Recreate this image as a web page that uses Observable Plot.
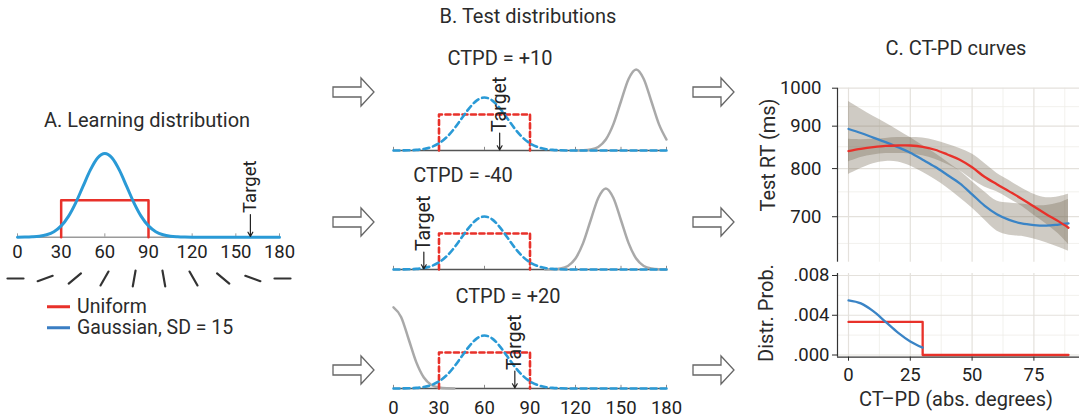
<!DOCTYPE html>
<html><head><meta charset="utf-8">
<script src="https://cdn.jsdelivr.net/npm/d3@7"></script>
<script src="https://cdn.jsdelivr.net/npm/@observablehq/plot@0.6"></script>
<style>
body{margin:0;background:#fff;font-family:Roboto,sans-serif;color:#2b2b2b}
#fig{position:relative;width:1084px;height:419px;overflow:hidden;background:#fff}
.t{position:absolute;transform:translate(-50%,-50%);white-space:nowrap;font-size:20px;line-height:1;color:#2b2b2b}
.leg{position:absolute;white-space:nowrap;font-size:19.5px;line-height:1;color:#2b2b2b;transform:translateY(-50%)}
.leg span{display:inline-block;width:23px;height:3px;vertical-align:middle;margin-right:7px;position:relative;top:-1px}
</style></head><body><div id="fig"></div>
<script>
// ---------- DATA ----------
// Panel A / B: learning distribution (relative height, peak = 1)
const learnX = [0,5,10,15,20,25,30,35,40,45,50,55,60,65,70,75,80,85,90,95,100,105,110,115,120,125,130,135,140,145,150,155,160,165,170,175,180];
const learnY = [0,0.001,0.004,0.011,0.029,0.066,0.135,0.249,0.411,0.607,0.801,0.946,1,0.946,0.801,0.607,0.411,0.249,0.135,0.066,0.029,0.011,0.004,0.001,0,0,0,0,0,0,0,0,0,0,0,0,0];
const uniformX = [30,30,90,90];
const uniformShape = [0,1,1,0];
const uniformLevelA = 0.44;
const uniformLevelB = 0.68;
const orientTicks = [0,30,60,90,120,150,180];
const targetA = 160;
const orientations = [0,20,40,60,80,100,120,140,160,180];
const legendNames = ["Uniform","Gaussian, SD = 15"];

// Panel B: test distributions
const ctpdLabels = ["CTPD = +10","CTPD = -40","CTPD = +20"];
const targetsB = [70,20,80];
const testCenters = [160,140,0];
const testOffsets = [-40,-35,-30,-25,-20,-15,-10,-5,0,5,10,15,20,25,30,35,40];
const testShape = [0,0.003,0.017,0.067,0.207,0.497,0.929,1.35,1.53,1.35,0.929,0.497,0.207,0.067,0.017,0.003,0];

// Panel C: CT-PD curves
const ctpdX  = [0,5,10,15,20,25,30,35,40,45,50,55,60,65,70,75,80,85,89];
const blueRT = [893,883,872,861,849,836,820,804,786,768,745,722,705,694,687,684,683,685,687];
const blueLo = [787,800,811,816,815,806,792,776,758,738,717,694,673,665,663,658,651,643,636];
const blueHi = [964,944,925,908,890,872,853,835,815,795,772,750,731,727,725,722,722,727,735];
const redRT  = [840,845,849,852,853,853,850,843,832,820,803,782,766,751,736,720,705,691,679];
const redLo  = [815,825,831,834,834,833,829,821,809,795,776,760,750,736,721,703,686,667,648];
const redHi  = [868,867,868,870,872,872,871,865,856,846,833,812,790,774,758,745,738,740,745];
const rtTicks = [700,800,900,1000];
const rtMinor = [650,750,850,950];
const probX = [0,5,10,15,20,25,30];
const gaussProb = [0.0055,0.00519,0.00441,0.00334,0.00226,0.00137,0.00074];
const uniProbX = [0,30,89];
const uniProb = [0.00333,0,0];
const probTicks = [0,0.004,0.008];
const probMinor = [0.002,0.006];
const cTicks = [0,25,50,75];
const cMinor = [12.5,37.5,62.5,87.5];

// ---------- STYLE ----------
const RED = "#e8312a", BLUE_A = "#2a9ad6", BLUE_L = "#3a7ec3", BLUE_C = "#3a84c6";
const GREY = "#a9a9a9", INK = "#222", GRID = "#e4e1dc", GRIDMIN = "#efede9";
const baseStyle = {fontFamily:"Roboto, sans-serif", fontSize:"18px", color:"#2b2b2b", background:"transparent", overflow:"visible"};

const fig = document.getElementById("fig");
function place(el, left, top){ el.style.position="absolute"; el.style.left=left+"px"; el.style.top=top+"px"; fig.appendChild(el); return el; }
function label(text, x, y, rot){ const d=document.createElement("div"); d.className="t"; d.textContent=text; d.style.left=x+"px"; d.style.top=y+"px"; if(rot) d.style.transform="translate(-50%,-50%) rotate(-90deg)"; fig.appendChild(d); }

// ---------- PANEL A ----------
const rowsA = learnX.map((x,i)=>({x, y:learnY[i]}));
const uniA = uniformX.map((x,i)=>({x, y:uniformShape[i]*uniformLevelA}));
place(Plot.plot({
  width:300, height:140, marginLeft:17, marginRight:21, marginTop:23, marginBottom:33.3,
  x:{domain:[0,180], label:null}, y:{domain:[0,1], axis:null, label:null},
  style: baseStyle,
  marks:[
    Plot.ruleY([0],{stroke:"#9a9a9a", strokeWidth:1.5}),
    Plot.ruleX(orientTicks,{y1:0, y2:0.04, stroke:"#9a9a9a"}),
    Plot.line(uniA,{x:"x", y:"y", stroke:RED, strokeWidth:2.5}),
    Plot.line(rowsA,{x:"x", y:"y", stroke:BLUE_A, strokeWidth:3, curve:"monotone-x"}),
    Plot.arrow([targetA],{x1:d=>d, x2:d=>d, y1:0.27, y2:0.01, stroke:INK, strokeWidth:1.2, headLength:6}),
    Plot.text([targetA],{x:d=>d, y:0.29, text:()=>"Target", rotate:-90, textAnchor:"start", lineAnchor:"middle", fontSize:18.5, fill:INK}),
    Plot.axisX(orientTicks,{tickSize:0, tickPadding:8, fontSize:18.5, fill:INK})
  ]
}), 0, 130);

place(Plot.plot({
  width:300, height:26, marginLeft:15, marginRight:18, marginTop:0, marginBottom:0,
  x:{domain:[0,180], axis:null}, style: baseStyle,
  marks:[
    Plot.vector(orientations,{x:d=>d, rotate:d=>90-d, length:16, anchor:"middle",
      shape:{draw(ctx,l){ ctx.moveTo(0,0); ctx.lineTo(0,-l); }},
      stroke:"#333", strokeWidth:2.2})
  ]
}), 0, 265);

label("A. Learning distribution", 147, 120);
[[RED,307],[BLUE_L,328]].forEach(([c,y],i)=>{
  const d=document.createElement("div"); d.className="leg";
  d.innerHTML=`<span style="background:${c}"></span>`; d.appendChild(document.createTextNode(legendNames[i]));
  d.style.left="47px"; d.style.top=y+"px"; fig.appendChild(d);
});

// ---------- PANEL B ----------
const rowsB = learnX.map((x,i)=>({x, y:learnY[i]}));
const uniB = uniformX.map((x,i)=>({x, y:uniformShape[i]*uniformLevelB}));
const bTops = [55,174,293];
const bCenters = [[500,57.5],[463,175],[508,296]];
[0,1,2].forEach(i=>{
  const test = testOffsets.map((o,j)=>({x:testCenters[i]+o, y:testShape[j]})).filter(d=>d.x>=0 && d.x<=180);
  const last = i===2;
  const marks = [
    Plot.ruleY([0],{stroke:"#555", strokeWidth:1.5}),
    Plot.ruleX(orientTicks,{y1:0, y2:0.06, stroke:"#8a8a8a"}),
    Plot.line(test,{x:"x", y:"y", stroke:GREY, strokeWidth:2.5, curve:"monotone-x"}),
    Plot.line(uniB,{x:"x", y:"y", stroke:RED, strokeWidth:2.6, strokeDasharray:"5,3.5"}),
    Plot.line(rowsB,{x:"x", y:"y", stroke:BLUE_A, strokeWidth:2.6, strokeDasharray:"6,4", curve:"monotone-x"}),
    Plot.arrow([targetsB[i]],{x1:d=>d, x2:d=>d, y1:0.33, y2:0.01, stroke:INK, strokeWidth:1.2, headLength:6}),
    Plot.text([targetsB[i]],{x:d=>d, y:0.35, text:()=>"Target", rotate:-90, textAnchor:"start", lineAnchor:"middle", fontSize:19.5, fill:INK})
  ];
  if(last) marks.push(Plot.axisX(orientTicks,{tickSize:0, tickPadding:12, fontSize:18.5, fill:INK}));
  place(Plot.plot({
    width:300, height: last?125:100, marginLeft:13, marginRight:14, marginTop:10.2, marginBottom: last?30:5,
    x:{domain:[0,180], label:null, axis:null}, y:{domain:[0,1.6], axis:null, label:null},
    style: baseStyle, marks
  }), 380, bTops[i]);
  label(ctpdLabels[i], bCenters[i][0], bCenters[i][1]);
});
label("B. Test distributions", 528, 16);

// ---------- PANEL C ----------
// RT axis drawn on log10 scale (values are logged at draw time)
const L = Math.log10;
const xDomC = [-4.45, 93.45];
const yDomRT = [L(617), L(1000)];
const rowsC = ctpdX.map((x,i)=>({x, b:L(blueRT[i]), bl:L(blueLo[i]), bh:L(blueHi[i]), r:L(redRT[i]), rl:L(redLo[i]), rh:L(redHi[i])}));
const BAND = "#766a56";
place(Plot.plot({
  width:344, height:190, marginLeft:97, marginRight:5, marginTop:7.7, marginBottom:8.3,
  x:{domain:xDomC, axis:null, label:null}, y:{domain:yDomRT, label:null},
  style: baseStyle,
  marks:[
    Plot.gridX(cMinor,{stroke:GRIDMIN, strokeOpacity:1, strokeWidth:0.8}),
    Plot.gridY(rtMinor.map(L),{stroke:GRIDMIN, strokeOpacity:1, strokeWidth:0.8}),
    Plot.gridX(cTicks,{stroke:GRID, strokeOpacity:1, strokeWidth:1.2}),
    Plot.gridY(rtTicks.map(L),{stroke:GRID, strokeOpacity:1, strokeWidth:1.2}),
    Plot.areaY(rowsC,{x:"x", y1:"bl", y2:"bh", fill:BAND, fillOpacity:0.35, curve:"catmull-rom"}),
    Plot.areaY(rowsC,{x:"x", y1:"rl", y2:"rh", fill:BAND, fillOpacity:0.35, curve:"catmull-rom"}),
    Plot.line(rowsC,{x:"x", y:"b", stroke:BLUE_C, strokeWidth:2.3, curve:"catmull-rom"}),
    Plot.line(rowsC,{x:"x", y:"r", stroke:RED, strokeWidth:2.3, curve:"catmull-rom"}),
    Plot.ruleX([xDomC[0]],{stroke:"#333", strokeWidth:1.2}),
    Plot.axisY(rtTicks.map(L),{tickSize:5, tickPadding:11, tickFormat:d=>String(Math.round(10**d)), fontSize:18.5, fill:INK})
  ]
}), 740, 80);

const yDomP = [-0.00022, 0.0082];
const gRows = probX.map((x,i)=>({x, y:gaussProb[i]}));
const uRows = uniProbX.map((x,i)=>({x, y:uniProb[i]}));
place(Plot.plot({
  width:344, height:154, marginLeft:97, marginRight:5, marginTop:8, marginBottom:62.3,
  x:{domain:xDomC, label:null}, y:{domain:yDomP, label:null},
  style: baseStyle,
  marks:[
    Plot.gridX(cMinor,{stroke:GRIDMIN, strokeOpacity:1, strokeWidth:0.8}),
    Plot.gridY(probMinor,{stroke:GRIDMIN, strokeOpacity:1, strokeWidth:0.8}),
    Plot.gridX(cTicks,{stroke:GRID, strokeOpacity:1, strokeWidth:1.2}),
    Plot.gridY(probTicks,{stroke:GRID, strokeOpacity:1, strokeWidth:1.2}),
    Plot.line(uRows,{x:"x", y:"y", stroke:RED, strokeWidth:2.3, curve:"step-after"}),
    Plot.line(gRows,{x:"x", y:"y", stroke:BLUE_C, strokeWidth:2.3, curve:"monotone-x"}),
    Plot.ruleX([xDomC[0]],{stroke:"#333", strokeWidth:1.2}),
    Plot.ruleY([yDomP[0]],{stroke:"#333", strokeWidth:1.2}),
    Plot.axisY(probTicks,{tickSize:5, tickPadding:3, tickFormat:d=>d3.format(".3f")(d).replace(/^0\./,"."), fontSize:18.5, fill:INK}),
    Plot.axisX(cTicks,{tickSize:4, tickPadding:7, fontSize:18.5, fill:INK})
  ]
}), 740, 265);

label("C. CT-PD curves", 956, 48);
label("Test RT (ms)", 768, 155, true);
label("Distr. Prob.", 766, 313, true);
label("CT\u2013PD (abs. degrees)", 956, 399);

// ---------- block arrows (decoration) ----------
const NS="http://www.w3.org/2000/svg";
const ov=document.createElementNS(NS,"svg");
ov.setAttribute("width",1084); ov.setAttribute("height",419);
ov.style.position="absolute"; ov.style.left="0"; ov.style.top="0"; ov.style.pointerEvents="none";
[[333,92],[333,222],[333,370],[693,92],[693,222],[693,370]].forEach(([x,y])=>{
  const p=document.createElementNS(NS,"path");
  p.setAttribute("d",`M${x},${y-5}H${x+28}V${y-14}L${x+41},${y}L${x+28},${y+14}V${y+5}H${x}Z`);
  p.setAttribute("fill","#fff"); p.setAttribute("stroke","#666"); p.setAttribute("stroke-width","1.3");
  ov.appendChild(p);
});
fig.appendChild(ov);
</script></body></html>
